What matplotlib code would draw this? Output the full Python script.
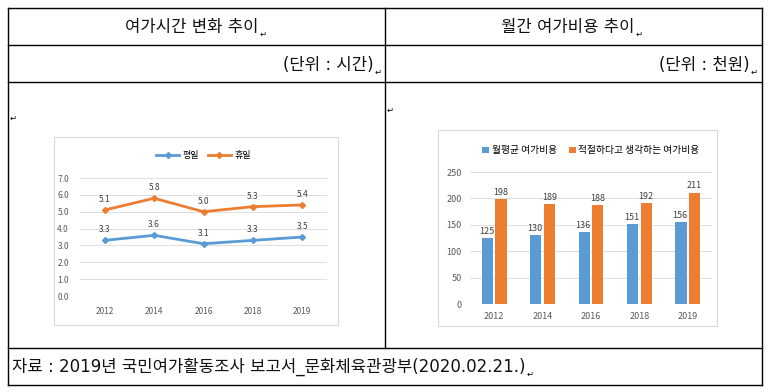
import matplotlib.pyplot as plt
from matplotlib.patches import Rectangle
import numpy as np

plt.rcParams['font.family'] = ['Noto Sans CJK KR', 'DejaVu Sans']

years = ['2012', '2014', '2016', '2018', '2019']
weekday = [3.3, 3.6, 3.1, 3.3, 3.5]
holiday = [5.1, 5.8, 5.0, 5.3, 5.4]
cost_avg = [125, 130, 136, 151, 156]
cost_proper = [198, 189, 188, 192, 211]

BLUE = '#5B9BD5'
ORANGE = '#ED7D31'
W, H = 770, 392

fig = plt.figure(figsize=(7.7, 3.92), dpi=100)


def fx(x):
    return x / W


def fy(y):
    return 1 - y / H


def hline(y, x0, x1):
    fig.add_artist(plt.Line2D([fx(x0), fx(x1)], [fy(y), fy(y)], color='black', lw=1))


def vline(x, y0, y1):
    fig.add_artist(plt.Line2D([fx(x), fx(x)], [fy(y0), fy(y1)], color='black', lw=1))


# table frame
L, R, T, B = 8, 762, 8, 385
for y in [T, 45, 82, 348, B]:
    hline(y, L, R)
vline(L, T, B)
vline(R, T, B)
vline(385, T, 348)

# latin/digits from DejaVu (wider, like the original gulim), hangul from Noto CJK
cell_kw = dict(va='center', fontsize=12, color='#111111',
               family=['DejaVu Sans', 'Noto Sans CJK KR'])
cells = [
    fig.text(fx(192), fy(27), '여가시간 변화 추이', ha='center', **cell_kw),
    fig.text(fx(568), fy(27), '월간 여가비용 추이', ha='center', **cell_kw),
    fig.text(fx(374), fy(65), '(단위 : 시간)', ha='right', **cell_kw),
    fig.text(fx(750), fy(65), '(단위 : 천원)', ha='right', **cell_kw),
    fig.text(fx(12), fy(367), '자료 : 2019년 국민여가활동조사 보고서_문화체육관광부(2020.02.21.)',
             ha='left', **cell_kw),
]

# paragraph marks right after each cell text
renderer = fig.canvas.get_renderer()
for t in cells:
    bb = t.get_window_extent(renderer)
    fig.text((bb.x1 + 1) / W, (bb.y0 + 2) / H, '↵', ha='left', va='center',
             fontsize=6, family='DejaVu Sans')
for x, y in [(10, 118), (387, 110)]:
    fig.text(fx(x), fy(y), '↵', ha='left', va='center', fontsize=6, family='DejaVu Sans')

# chart boxes
fig.add_artist(Rectangle((fx(54), fy(325)), fx(338 - 54), (325 - 137) / H,
                         fill=False, ec='#D9D9D9', lw=0.8))
fig.add_artist(Rectangle((fx(438), fy(326)), fx(717 - 438), (326 - 130) / H,
                         fill=False, ec='#D9D9D9', lw=0.8))

x = np.arange(len(years))

# line chart
ax1 = fig.add_axes([fx(80), fy(296), fx(327 - 80), (296 - 178) / H])
ax1.plot(x, weekday, color=BLUE, lw=2, marker='D', ms=3, label='평일')
ax1.plot(x, holiday, color=ORANGE, lw=2, marker='D', ms=3, label='휴일')
for xi, v in zip(x, weekday):
    ax1.text(xi, v + 0.35, f'{v:.1f}', ha='center', va='bottom', fontsize=6, color='#404040')
for xi, v in zip(x, holiday):
    ax1.text(xi, v + 0.35, f'{v:.1f}', ha='center', va='bottom', fontsize=6, color='#404040')
ax1.set_ylim(0, 7)
ax1.set_xlim(-0.5, 4.5)
ax1.set_yticks(np.arange(0, 7.1, 1))
ax1.set_yticklabels([f'{v:.1f}' for v in np.arange(0, 7.1, 1)])
ax1.set_xticks(x)
ax1.set_xticklabels(years)
ax1.grid(axis='y', color='#D9D9D9', lw=0.6)
ax1.set_axisbelow(True)
for s in ax1.spines.values():
    s.set_visible(False)
ax1.tick_params(length=0, labelsize=6, labelcolor='#595959', pad=8)
ax1.legend(loc='lower center', bbox_to_anchor=(0.5, 1.08), ncol=2, frameon=False,
           fontsize=6.5, handlelength=2.5, columnspacing=1, handletextpad=0.4)

# bar chart
ax2 = fig.add_axes([fx(470), fy(304), fx(712 - 470), (304 - 172) / H])
bw = 0.23
ax2.bar(x - 0.14, cost_avg, width=bw, color=BLUE, label='월평균 여가비용')
ax2.bar(x + 0.14, cost_proper, width=bw, color=ORANGE, label='적절하다고 생각하는 여가비용')
for xi, v in zip(x, cost_avg):
    ax2.text(xi - 0.16, v + 4, str(v), ha='center', va='bottom', fontsize=6.5, color='#404040')
for xi, v in zip(x, cost_proper):
    ax2.text(xi + 0.14, v + 4, str(v), ha='center', va='bottom', fontsize=6.5, color='#404040')
ax2.set_ylim(0, 250)
ax2.set_xlim(-0.5, 4.5)
ax2.set_yticks(range(0, 251, 50))
ax2.set_xticks(x)
ax2.set_xticklabels(years)
ax2.grid(axis='y', color='#D9D9D9', lw=0.6)
ax2.set_axisbelow(True)
for s in ax2.spines.values():
    s.set_visible(False)
ax2.tick_params(length=0, labelsize=6.5, labelcolor='#595959', pad=6)
ax2.legend(loc='lower center', bbox_to_anchor=(0.5, 1.06), ncol=2, frameon=False,
           fontsize=7, handlelength=0.7, handleheight=0.7, columnspacing=1.2, handletextpad=0.3)

fig.savefig('out.png', dpi=100)
